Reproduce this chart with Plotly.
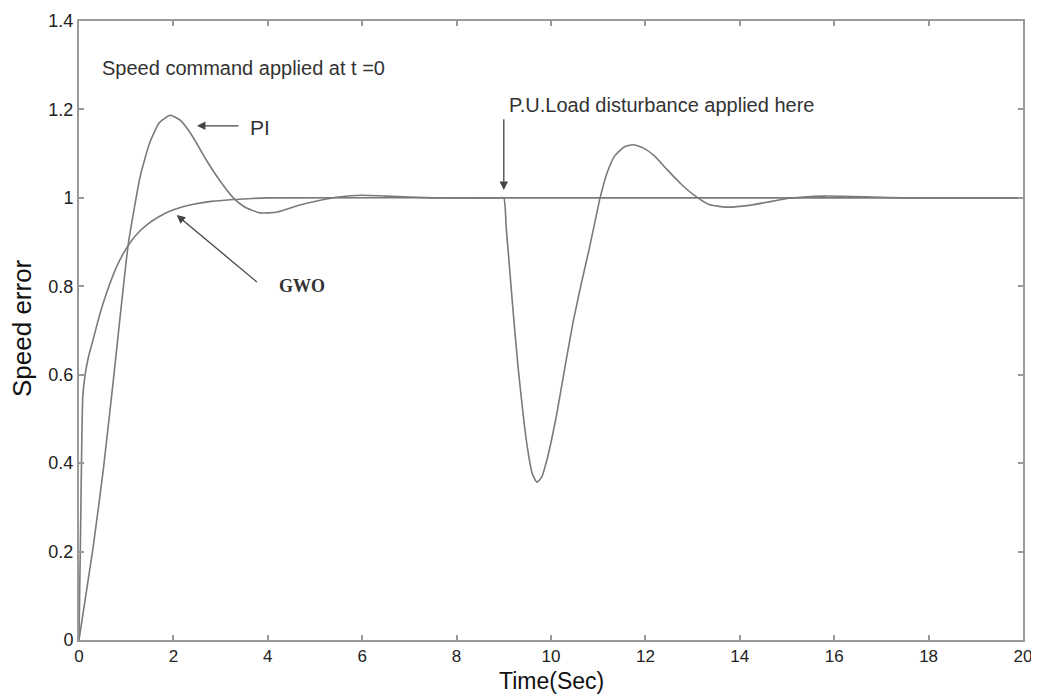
import plotly.graph_objects as go

# ---- data ----
t_gwo = [0, 0.04, 0.08, 0.13, 0.2, 0.3, 0.45, 0.6, 0.8, 1.0, 1.2, 1.45, 1.7, 2.0, 2.4, 2.8, 3.4, 4.0, 9.0, 20.0]
y_gwo = [0, 0.30, 0.55, 0.60, 0.64, 0.68, 0.74, 0.79, 0.845, 0.885, 0.915, 0.94, 0.958, 0.973, 0.985, 0.992, 0.997, 1.0, 1.0, 1.0]

t_pi = [0, 0.3, 0.52, 0.73, 0.88, 1.05, 1.3, 1.5, 1.7, 1.93, 2.15, 2.4, 2.7, 2.99, 3.27, 3.5, 3.83,
        4.2, 4.68, 5.04, 5.5, 6.0, 6.5, 7.5, 8.0, 8.5, 8.9, 9.0,
        9.05, 9.1, 9.2, 9.3, 9.41, 9.5, 9.6, 9.7, 9.8, 9.92, 10.12, 10.3, 10.47, 10.65, 10.8, 10.92,
        11.04, 11.2, 11.35, 11.55, 11.74, 11.95, 12.2, 12.45, 12.75,
        13.01, 13.35, 13.72, 14.2, 14.57, 15.06, 15.8, 16.8, 17.5, 20.0]
y_pi = [0, 0.21, 0.39, 0.59, 0.74, 0.90, 1.05, 1.125, 1.17, 1.187, 1.175, 1.14, 1.085, 1.038, 1.0, 0.98, 0.966,
        0.968, 0.984, 0.993, 1.002, 1.006, 1.004, 1.0, 1.0, 1.0, 1.0, 1.0,
        0.935, 0.87, 0.74, 0.62, 0.51, 0.435, 0.377, 0.357, 0.368, 0.41, 0.51, 0.62, 0.72, 0.81, 0.88, 0.94,
        1.0, 1.06, 1.095, 1.115, 1.12, 1.113, 1.094, 1.065, 1.032,
        1.008, 0.985, 0.979, 0.983, 0.99, 0.999, 1.004, 1.002, 1.0, 1.0]

x_ticks = [0, 2, 4, 6, 8, 10, 12, 14, 16, 18, 20]
x_tick_text = ["0", "2", "4", "6", "8", "10", "12", "14", "16", "18", "20"]
y_ticks = [0, 0.2, 0.4, 0.6, 0.8, 1.0, 1.2, 1.4]
y_tick_text = ["0", "0.2", "0.4", "0.6", "0.8", "1", "1.2", "1.4"]

curve_color = "#7a7a7a"

fig = go.Figure()
fig.add_trace(go.Scatter(x=t_gwo, y=y_gwo, mode="lines", name="GWO",
                         line=dict(color=curve_color, width=1.6, shape="spline", smoothing=0.5)))
fig.add_trace(go.Scatter(x=t_pi, y=y_pi, mode="lines", name="PI",
                         line=dict(color=curve_color, width=1.6, shape="spline", smoothing=0.5)))

sans = "Arial, Liberation Sans, sans-serif"
txt_font = dict(family=sans, size=20, color="#333333")

annotations = [
    dict(x=0.445, y=1.294, xref="x", yref="y", text="Speed command applied at t =0",
         showarrow=False, xanchor="left", yanchor="middle", font=txt_font),
    dict(x=9.06, y=1.21, xref="x", yref="y", text="P.U.Load disturbance applied here",
         showarrow=False, xanchor="left", yanchor="middle", font=txt_font),
    dict(x=3.58, y=1.16, xref="x", yref="y", text="PI",
         showarrow=False, xanchor="left", yanchor="middle",
         font=dict(family=sans, size=21, color="#333333")),
    dict(x=4.19, y=0.80, xref="x", yref="y", text="<b>GWO</b>",
         showarrow=False, xanchor="left", yanchor="middle",
         font=dict(family="Liberation Serif, Times New Roman, serif", size=18, color="#333333")),
    # arrows
    dict(x=2.50, y=1.163, ax=3.41, ay=1.163, xref="x", yref="y", axref="x", ayref="y",
         text="", showarrow=True, arrowhead=2, arrowsize=1.3, arrowwidth=1.3,
         arrowcolor="#444444", standoff=0),
    dict(x=2.07, y=0.961, ax=3.80, ay=0.807, xref="x", yref="y", axref="x", ayref="y",
         text="", showarrow=True, arrowhead=2, arrowsize=1.3, arrowwidth=1.3,
         arrowcolor="#444444", standoff=0),
    dict(x=9.0, y=1.018, ax=9.0, ay=1.181, xref="x", yref="y", axref="x", ayref="y",
         text="", showarrow=True, arrowhead=2, arrowsize=1.3, arrowwidth=1.3,
         arrowcolor="#444444", standoff=0),
    # axis titles
    dict(x=0.5, y=0, xref="paper", yref="paper", yshift=-41, text="Time(Sec)",
         showarrow=False, xanchor="center", yanchor="middle",
         font=dict(family=sans, size=23, color="#111111")),
    dict(x=0, y=0.504, xref="paper", yref="paper", xshift=-57, text="Speed error",
         textangle=-90, showarrow=False, xanchor="center", yanchor="middle",
         font=dict(family=sans, size=26, color="#111111")),
]

# the page body adds an 8px offset, so the figure is 8px smaller and margins shifted
fig.update_layout(
    width=1031, height=686,
    margin=dict(l=71, r=16, t=13, b=54, autoexpand=False),
    paper_bgcolor="white", plot_bgcolor="white",
    showlegend=False,
    annotations=annotations,
    font=dict(family=sans, color="#222222"),
)
fig.update_xaxes(
    range=[0, 20], tickvals=x_ticks, ticktext=x_tick_text,
    ticks="inside", ticklen=5, tickcolor="#999999", tickwidth=1.5,
    showline=True, linecolor="#9a9a9a", linewidth=2, mirror="ticks",
    showgrid=False, zeroline=False, automargin=False,
    tickfont=dict(size=17, color="#222222"),
)
fig.update_yaxes(
    range=[0, 1.4], tickvals=y_ticks, ticktext=y_tick_text,
    ticks="inside", ticklen=5, tickcolor="#999999", tickwidth=1.5,
    showline=True, linecolor="#9a9a9a", linewidth=2, mirror="ticks",
    showgrid=False, zeroline=False, automargin=False,
    tickfont=dict(size=18, color="#222222"),
)

fig.write_html("out.html")
